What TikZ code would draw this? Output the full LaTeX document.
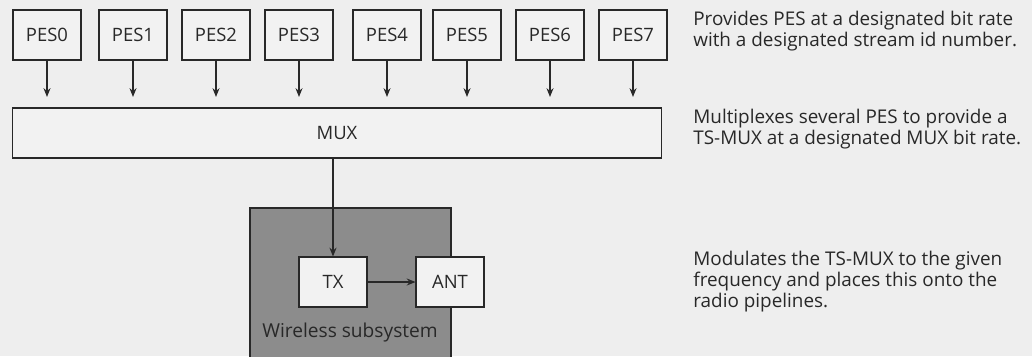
\documentclass[tikz,border=0pt]{standalone}
\usepackage{fontspec}
\setmainfont{Open Sans}
\usetikzlibrary{positioning, arrows.meta}
\definecolor{paper}{RGB}{238,238,238}
\definecolor{boxfill}{RGB}{242,242,242}
\definecolor{subsys}{RGB}{140,140,140}
\definecolor{inkgrey}{RGB}{40,40,40}

\begin{document}
\begin{tikzpicture}[x=0.02cm, y=-0.02cm, font=\fontsize{10.5}{12}\selectfont, text=inkgrey,
    block/.style={draw=inkgrey, fill=boxfill, line width=0.6pt,
                  minimum width=1.36cm, minimum height=1cm, inner sep=0pt},
    flow/.style={draw=inkgrey, line width=0.6pt, -{Stealth[length=5pt, width=4pt]}},
    note/.style={anchor=north west, align=left, inner sep=0pt,
                 font=\fontsize{10.75}{12}\selectfont}]
  \useasboundingbox[fill=paper] (0,0) rectangle (1032,356);
  % Elementary streams
  \foreach \i/\x in {0/47, 1/133, 2/216, 3/299, 4/387, 5/467, 6/550, 7/633} {
    \node[block] (pes\i) at (\x,35) {PES\i};
  }
  % Multiplexer
  \node[block, minimum width=13cm] (mux) at (337,133) {MUX};
  \foreach \i in {0,...,7} {
    \draw[flow, shorten >=6pt] (pes\i.south) -- (pes\i.south |- mux.north);
  }
  % Wireless subsystem
  \draw[draw=inkgrey, fill=subsys, line width=0.6pt] (250,208) rectangle (451,358);
  \node[inner sep=0pt, font=\fontsize{10.9}{12}\selectfont] (wlabel) at (350,333) {Wireless subsystem};
  \node[block] (tx) at (333,282) {TX};
  \node[block] (ant) at (450,282) {ANT};
  \draw[flow] (mux.south -| tx.north) -- (tx.north);
  \draw[flow] (tx.east) -- (ant.west);
  % Descriptions
  \node[note] (d1) at (693,11) {Provides PES at a designated bit rate\\with a designated stream id number.};
  \node[note] (d2) at (693,109) {Multiplexes several PES to provide a\\TS-MUX at a designated MUX bit rate.};
  \node[note] (d3) at (693,251) {Modulates the TS-MUX to the given\\frequency and places this onto the\\radio pipelines.};
\end{tikzpicture}
\end{document}
